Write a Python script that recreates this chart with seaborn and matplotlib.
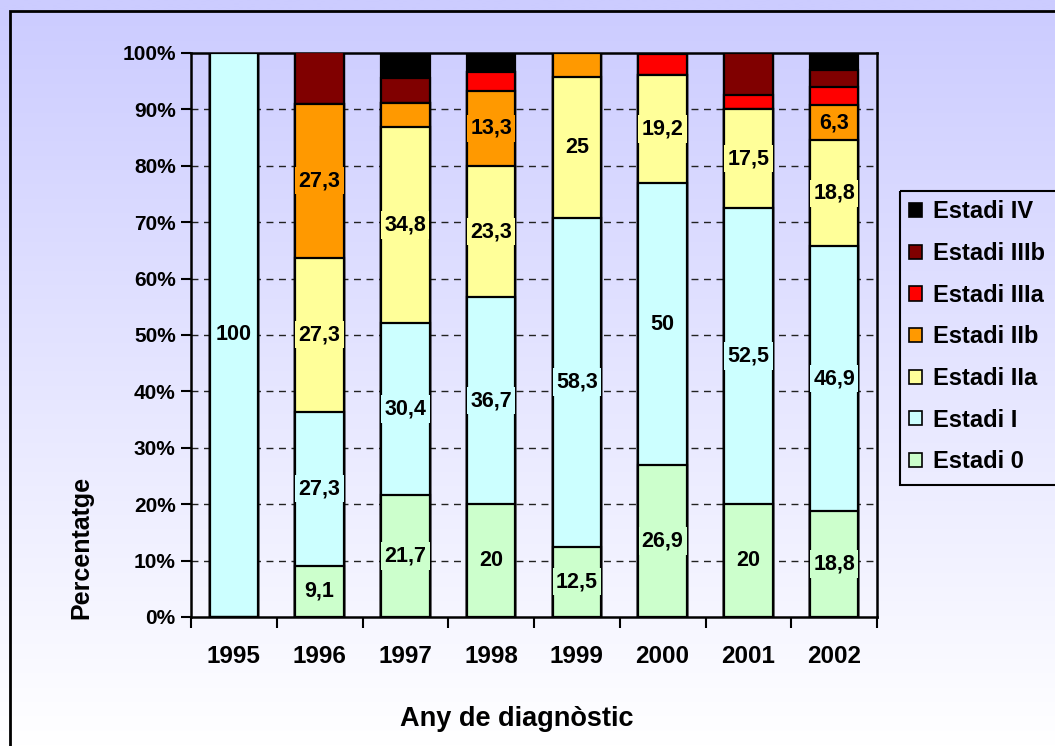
import numpy as np
import pandas as pd
import matplotlib
matplotlib.use("Agg")
import matplotlib.pyplot as plt
from matplotlib.patches import Patch, Rectangle
import seaborn as sns

# ---- data: percentage of cases by stage and year of diagnosis ----
years = ["1995", "1996", "1997", "1998", "1999", "2000", "2001", "2002"]
stages = ["Estadi 0", "Estadi I", "Estadi IIa", "Estadi IIb",
          "Estadi IIIa", "Estadi IIIb", "Estadi IV"]

estadi_0    = [0.0,   9.1, 21.7, 20.0, 12.5, 26.9, 20.0, 18.8]
estadi_i    = [100.0, 27.3, 30.4, 36.7, 58.3, 50.0, 52.5, 46.9]
estadi_iia  = [0.0,  27.3, 34.8, 23.3, 25.0, 19.2, 17.5, 18.8]
estadi_iib  = [0.0,  27.3,  4.3, 13.3,  4.2,  0.0,  0.0,  6.3]
estadi_iiia = [0.0,   0.0,  0.0,  3.3,  0.0,  3.8,  2.5,  3.1]
estadi_iiib = [0.0,   9.1,  4.3,  0.0,  0.0,  0.0,  7.5,  3.1]
estadi_iv   = [0.0,   0.0,  4.3,  3.3,  0.0,  0.0,  0.0,  3.1]

# segments that carry a value label (per stage, per year)
labelled = {
    "Estadi 0":    [False, True, True, True, True, True, True, True],
    "Estadi I":    [True, True, True, True, True, True, True, True],
    "Estadi IIa":  [False, True, True, True, True, True, True, True],
    "Estadi IIb":  [False, True, False, True, False, False, False, True],
    "Estadi IIIa": [False] * 8,
    "Estadi IIIb": [False] * 8,
    "Estadi IV":   [False] * 8,
}

colors = {
    "Estadi 0": "#CCFFCC",
    "Estadi I": "#CCFFFF",
    "Estadi IIa": "#FFFF99",
    "Estadi IIb": "#FF9900",
    "Estadi IIIa": "#FF0000",
    "Estadi IIIb": "#800000",
    "Estadi IV": "#000000",
}

values = dict(zip(stages, [estadi_0, estadi_i, estadi_iia, estadi_iib,
                           estadi_iiia, estadi_iiib, estadi_iv]))

df = pd.DataFrame(values, index=years)
cum = df.cumsum(axis=1)
starts = cum - df

FONT = "Liberation Sans"
sns.set_style("white")
plt.rcParams["font.family"] = [FONT, "DejaVu Sans"]
plt.rcParams["font.weight"] = "bold"
plt.rcParams["text.color"] = "black"
plt.rcParams["axes.labelcolor"] = "black"
plt.rcParams["xtick.color"] = "black"
plt.rcParams["ytick.color"] = "black"

W, H = 1055, 746
fig = plt.figure(figsize=(W / 100, H / 100), dpi=100)

# chart-area background: vertical lavender-to-white gradient with border
bg = fig.add_axes([0, 0, 1, 1], zorder=-10)
bg.set_xlim(0, W)
bg.set_ylim(H, 0)
bg.axis("off")
top_px = 11
rows = np.linspace(0, 1, 400)
t = np.clip((rows * H - top_px) / (H - top_px), 0, 1)
c0 = np.array([204, 204, 255]) / 255
c1 = np.array([255, 255, 255]) / 255
grad = (c0[None, :] * (1 - t[:, None]) + c1[None, :] * t[:, None])[:, None, :]
bg.imshow(grad, extent=[0, W, H, 0], aspect="auto", interpolation="bilinear")
bg.plot([10, 10, W + 5], [H + 5, top_px, top_px], color="black", lw=2,
        solid_joinstyle="miter")
# legend box, running off the right edge of the chart
bg.add_patch(Rectangle((900, 191), 200, 294, fill=False, ec="black", lw=1.5))

# plot area
ax = fig.add_axes([191 / W, 1 - 617 / H, (877 - 191) / W, (617 - 53) / H])
ax.set_facecolor("none")

bar_width = 0.565
# stacked bars: draw cumulative totals from the top stage downward
for stage in stages[::-1]:
    sns.barplot(x=years, y=cum[stage].values, color=colors[stage],
                width=bar_width, edgecolor="black", linewidth=1.6,
                saturation=1, ax=ax, zorder=3)

# value labels centred in their segments
for stage in stages:
    for i, yr in enumerate(years):
        if not labelled[stage][i]:
            continue
        v = df.loc[yr, stage]
        yc = starts.loc[yr, stage] + v / 2
        txt = f"{v:g}".replace(".", ",")
        ax.text(i, yc, txt, ha="center", va="center", fontsize=15.5,
                fontweight="bold", color="black", zorder=5,
                bbox=dict(boxstyle="square,pad=0.15", fc=colors[stage],
                          ec="none"))

ax.set_ylim(0, 100)
ax.set_xlim(-0.5, len(years) - 0.5)

# dashed horizontal gridlines
for g in range(10, 100, 10):
    ax.axhline(g, color="#222222", lw=1.0, ls=(0, (5, 4)), zorder=1)

ax.set_yticks(range(0, 101, 10))
ax.set_yticklabels([f"{v}%" for v in range(0, 101, 10)], fontsize=15,
                   fontweight="bold")
ax.tick_params(axis="y", direction="out", length=7, width=1.5, pad=4,
               left=True, colors="black")

# category boundaries carry the tick marks; labels sit at bar centres
ax.set_xticks(np.arange(-0.5, len(years), 1.0))
ax.set_xticklabels([])
ax.set_xticks(np.arange(len(years)), minor=True)
ax.set_xticklabels(years, minor=True, fontsize=17.5, fontweight="bold")
ax.tick_params(axis="x", which="major", direction="out", length=8, width=1.5,
               bottom=True, colors="black")
ax.tick_params(axis="x", which="minor", length=0, pad=20, colors="black")
ax.set_xlabel("")
ax.set_ylabel("")

for side in ["left", "right", "top", "bottom"]:
    ax.spines[side].set_visible(True)
    ax.spines[side].set_color("black")
    ax.spines[side].set_linewidth(1.8)

fig.text(516.5 / W, 1 - 719 / H, "Any de diagnòstic", ha="center",
         va="center", fontsize=19.5, fontweight="bold", color="black")
fig.text(81 / W, 1 - 547 / H, "Percentatge", ha="center", va="center",
         rotation=90, fontsize=18, fontweight="bold", color="black")

handles = [Patch(facecolor=colors[s], edgecolor="black", linewidth=1.2)
           for s in stages[::-1]]
leg = fig.legend(handles, stages[::-1], loc="upper left",
                 bbox_to_anchor=(900 / W, 1 - 191 / H),
                 frameon=False,
                 prop={"family": FONT, "weight": "bold", "size": 17},
                 handlelength=0.55, handleheight=0.55, handletextpad=0.45,
                 labelspacing=0.79, borderpad=0.4, borderaxespad=0)
for txt in leg.get_texts():
    txt.set_color("black")

fig.savefig("out.png", dpi=100)
